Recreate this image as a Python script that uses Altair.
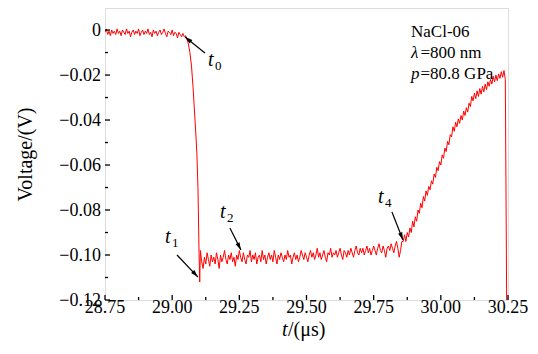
import math
import altair as alt
import pandas as pd

# ---------------- data (voltage in mV) ----------------
base_start = 28.75
base_step = 0.005
base_mv = [
    -1, 0.5, -2, -0.5, -2.5, 0, -1.5, -0.5, -2, 0.5,
    -1.5, -0.5, -2.5, 0, -1, -2, 0.5, -1.5, -0.5, -3,
    -1, 0, -2, -0.5, -1.5, 0.5, -2.5, -1, 0, -2,
    -0.5, -1.5, 0.5, -2, -1, -3, 0, -1.5, -0.5, -2.5,
    -1, 0, -2, -1, 0.5, -1.5, -3, -0.5, -1, -2,
    0, -2.5, -1, -1.5, -3.5, -1, -2, -3, -1.5, -3,
]

drop_t = [29.050, 29.055, 29.060, 29.066, 29.072, 29.0775, 29.081,
          29.085, 29.089, 29.092, 29.096, 29.098, 29.100, 29.1025]
drop_mv = [-2.5, -4, -6, -10, -16, -25, -32, -40, -48, -55, -70, -84, -99, -112]

flat_start = 29.105
flat_step = 0.005
flat_mv = [
    -98, -103, -106, -101, -104, -99, -102, -105, -100, -103,
    -101, -104, -99, -102, -106, -100, -103, -101, -98, -102,
    -104, -100, -102, -99, -103, -101, -105, -100, -102, -98,
    -101, -103, -99, -102, -104, -100, -101, -98, -103, -100,
    -102, -99, -104, -101, -100, -103, -98, -102, -100, -104,
    -101, -99, -102, -100, -103, -98, -101, -104, -100, -102,
    -99, -101, -103, -100, -102, -98, -101, -100, -104, -101,
    -99, -102, -100, -103, -101, -98, -100, -102, -99, -101,
    -103, -100, -98, -101, -99, -102, -100, -97, -101, -99,
    -102, -100, -98, -101, -103, -99, -100, -97, -101, -99,
    -100, -98, -101, -99, -97, -100, -102, -98, -99, -101,
    -98, -100, -97, -99, -101, -98, -96, -99, -100, -97,
    -99, -97, -100, -98, -96, -99, -97, -100, -98, -96,
    -98, -100, -97, -95, -98, -99, -96, -98, -101, -97,
    -96, -98, -95, -97, -99, -96, -94, -97, -101, -98,
    -94,
]

rise_start = 29.86
rise_step = 0.005
rise_mv = [
    -94, -91, -94, -90, -92, -88, -90, -85, -87.5, -83,
    -85, -80, -81.5, -77, -79, -74, -76, -71.5, -73.5, -69.5,
    -71, -67, -68.5, -64, -65.5, -61, -62.5, -58.5, -60, -55.5,
    -57, -52.5, -54, -49.5, -51, -46.5, -47.5, -43, -45, -41,
    -43, -39.5, -41.5, -38, -40, -36, -38, -34.5, -36.5, -32.5,
    -34, -29.5, -31.5, -28, -30.5, -27, -29.5, -26, -28.5, -25,
    -27.5, -24, -26.5, -23, -25, -22, -24, -20.5, -23, -20,
    -22.5, -19.5, -21.5, -18.5, -21, -18, -22,
]

end_t = [30.245]
end_mv = [-120]

x_major = [28.75, 29.0, 29.25, 29.5, 29.75, 30.0, 30.25]
x_labels = ["28.75", "29.00", "29.25", "29.50", "29.75", "30.00", "30.25"]
x_minor = [28.875, 29.125, 29.375, 29.625, 29.875, 30.125]
y_major = [-0.12, -0.10, -0.08, -0.06, -0.04, -0.02, 0.0]
y_labels = ["−0.12", "−0.10", "−0.08", "−0.06", "−0.04", "−0.02", "0"]
y_minor = [-0.11, -0.09, -0.07, -0.05, -0.03, -0.01]
y_title = "Voltage/(V)"

ann_sub = ["0", "1", "2", "4"]
ann_text_t = [29.1333, 28.9733, 29.178, 29.766]
ann_text_v = [-0.0160, -0.0947, -0.0836, -0.0769]
arrow_tail_t = [29.122, 29.018, 29.215, 29.818]
arrow_tail_v = [-0.0102, -0.100, -0.088, -0.0809]
arrow_tip_t = [29.048, 29.096, 29.256, 29.859]
arrow_tip_v = [-0.0031, -0.1098, -0.0978, -0.0933]

info_t = 29.889
info_v = [-0.0031, -0.0124, -0.0218]
info_first = "NaCl-06"
info_italic = ["λ", "p"]
info_rest = ["=800 nm", "=80.8 GPa"]

xtitle_t = 29.431

# ---------------- build tables ----------------
W, H = 403, 292
XD = [28.75, 30.25]
YD = [-0.12, 0.0098]
FONT = "Liberation Serif"

rows = []
for i, mv in enumerate(base_mv):
    rows.append((base_start + i * base_step, mv / 1000))
for t, mv in zip(drop_t, drop_mv):
    rows.append((t, mv / 1000))
for i, mv in enumerate(flat_mv):
    rows.append((flat_start + i * flat_step, mv / 1000))
for i, mv in enumerate(rise_mv):
    rows.append((rise_start + i * rise_step, mv / 1000))
for t, mv in zip(end_t, end_mv):
    rows.append((t, mv / 1000))
sig = pd.DataFrame(rows, columns=["t", "v"])
sig["i"] = range(len(sig))

xs = alt.Scale(domain=XD, nice=False, zero=False)
ys = alt.Scale(domain=YD, nice=False, zero=False)

XS = W / (XD[1] - XD[0])
YS = H / (YD[1] - YD[0])
angles = []
for a, b, c, d in zip(arrow_tail_t, arrow_tail_v, arrow_tip_t, arrow_tip_v):
    dxp = (c - a) * XS
    dyp = -(d - b) * YS
    angles.append(math.degrees(math.atan2(dxp, -dyp)) % 360)

arr = pd.DataFrame({"t": arrow_tail_t, "v": arrow_tail_v,
                    "t2": arrow_tip_t, "v2": arrow_tip_v, "ang": angles})
ann = pd.DataFrame({"t": ann_text_t, "v": ann_text_v, "sub": ann_sub})

X = lambda f: alt.X(f, scale=xs, axis=None)
Y = lambda f: alt.Y(f, scale=ys, axis=None)

line = alt.Chart(sig).mark_line(color="#ff0000", strokeWidth=1, clip=True).encode(
    x=X("t:Q"), y=Y("v:Q"), order="i:Q")

def xticks(vals, length):
    return alt.Chart(pd.DataFrame({"t": vals})).mark_rule(
        color="black", strokeWidth=1.3).encode(
        x=X("t:Q"), y=alt.value(H), y2=alt.value(H - length))

def yticks(vals, length):
    return alt.Chart(pd.DataFrame({"v": vals})).mark_rule(
        color="black", strokeWidth=1.3).encode(
        y=Y("v:Q"), x=alt.value(0), x2=alt.value(length))

xlab = alt.Chart(pd.DataFrame({"t": x_major, "s": x_labels})).mark_text(
    font=FONT, fontSize=18, align="center", baseline="alphabetic", color="black").encode(
    x=X("t:Q"), y=alt.value(H + 13), text="s:N")

ylab = alt.Chart(pd.DataFrame({"v": y_major, "s": y_labels})).mark_text(
    font=FONT, fontSize=18, align="right", baseline="alphabetic", color="black",
    dy=6).encode(
    y=Y("v:Q"), x=alt.value(-4), text="s:N")

ytitle = alt.Chart(pd.DataFrame({"s": [y_title]})).mark_text(
    font=FONT, fontSize=20, align="center", baseline="alphabetic", color="black",
    angle=270).encode(
    x=alt.value(-73), y=alt.value(146.5), text="s:N")

shafts = alt.Chart(arr).mark_rule(color="black", strokeWidth=1.2).encode(
    x=X("t:Q"), y=Y("v:Q"), x2="t2:Q", y2="v2:Q")

heads = alt.Chart(arr).mark_point(
    shape="M0,0L-0.35,1.2L0.35,1.2Z", filled=True, size=160,
    color="black", opacity=1, strokeWidth=0).encode(
    x=X("t2:Q"), y=Y("v2:Q"), angle=alt.Angle("ang:Q", scale=None))

t_lab = alt.Chart(ann).mark_text(
    font=FONT, fontStyle="italic", fontSize=20, align="left",
    baseline="alphabetic", color="black").encode(
    x=X("t:Q"), y=Y("v:Q"), text=alt.value("t"))

sub_lab = alt.Chart(ann).mark_text(
    font=FONT, fontSize=13, align="left", baseline="alphabetic",
    color="black", dx=7, dy=4).encode(
    x=X("t:Q"), y=Y("v:Q"), text="sub:N")

info0 = alt.Chart(pd.DataFrame({"t": [info_t], "v": [info_v[0]], "s": [info_first]})).mark_text(
    font=FONT, fontSize=17, align="left", baseline="alphabetic", color="black").encode(
    x=X("t:Q"), y=Y("v:Q"), text="s:N")

info_it = alt.Chart(pd.DataFrame({"t": [info_t] * 2, "v": info_v[1:], "s": info_italic})).mark_text(
    font=FONT, fontSize=17, fontStyle="italic", align="left", baseline="alphabetic",
    color="black").encode(
    x=X("t:Q"), y=Y("v:Q"), text="s:N")

info_rs = alt.Chart(pd.DataFrame({"t": [info_t] * 2, "v": info_v[1:], "s": info_rest})).mark_text(
    font=FONT, fontSize=17, align="left", baseline="alphabetic", color="black",
    dx=9.5).encode(
    x=X("t:Q"), y=Y("v:Q"), text="s:N")

xt_df = pd.DataFrame({"t": [xtitle_t]})
xt_a = alt.Chart(xt_df).mark_text(
    font=FONT, fontSize=20, fontStyle="italic", align="right",
    baseline="alphabetic", color="black", dx=-0.5).encode(
    x=X("t:Q"), y=alt.value(H + 36), text=alt.value("t"))
xt_b = alt.Chart(xt_df).mark_text(
    font=FONT, fontSize=20, align="left", baseline="alphabetic", color="black").encode(
    x=X("t:Q"), y=alt.value(H + 36), text=alt.value("/(μs)"))

chart = alt.layer(
    line, xticks(x_major, 5), xticks(x_minor, 3), yticks(y_major, 5), yticks(y_minor, 3),
    xlab, ylab, ytitle,
    shafts, heads, t_lab, sub_lab, info0, info_it, info_rs, xt_a, xt_b,
).properties(
    width=W, height=H,
    padding={"left": 97, "top": 0, "right": 22, "bottom": 46},
    autosize=alt.AutoSizeParams(type="none"),
).configure_view(stroke="black", strokeWidth=1.5).configure(font=FONT)

chart.save("out.html", embed_options={"renderer": "svg", "actions": False})
